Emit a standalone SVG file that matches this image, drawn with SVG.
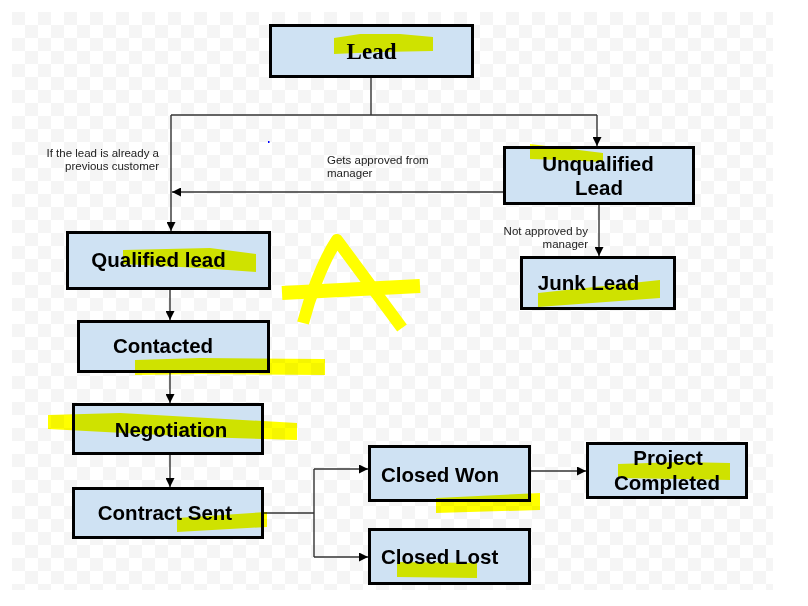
<svg xmlns="http://www.w3.org/2000/svg" width="808" height="606" viewBox="0 0 808 606">
<style>
.box{fill:#cfe2f3;stroke:#000;stroke-width:3}
.t{font-family:"Liberation Sans",Arial,sans-serif;font-weight:bold;font-size:20.5px;fill:#000}
.s{font-family:"Liberation Sans",Arial,sans-serif;font-size:11.5px;fill:#222}
.c{fill:none;stroke:#333;stroke-width:1.4}
.hl{fill:#ffff00;mix-blend-mode:multiply}
</style>
<defs>
<pattern id="chk" x="12" y="12" width="26" height="26" patternUnits="userSpaceOnUse">
<rect width="26" height="26" fill="#fff"/>
<rect width="13" height="13" fill="#f5f5f5"/>
<rect x="13" y="13" width="13" height="13" fill="#f5f5f5"/>
</pattern>
<marker id="ah" viewBox="0 0 10 10" refX="10" refY="5" markerWidth="9" markerHeight="9" markerUnits="userSpaceOnUse" orient="auto">
<path d="M0,0 L10,5 L0,10 z" fill="#000"/>
</marker>
</defs>
<rect width="808" height="606" fill="#fff"/>
<rect x="12" y="12" width="761" height="578" fill="url(#chk)"/>

<g id="connectors">
<path class="c" d="M371,77 V115"/>
<path class="c" d="M171,115 H597"/>
<path class="c" d="M171,115 V231" marker-end="url(#ah)"/>
<path class="c" d="M597,115 V146" marker-end="url(#ah)"/>
<path class="c" d="M504,192 H172" marker-end="url(#ah)"/>
<path class="c" d="M599,204 V256" marker-end="url(#ah)"/>
<path class="c" d="M170,289 V320" marker-end="url(#ah)"/>
<path class="c" d="M170,372 V403" marker-end="url(#ah)"/>
<path class="c" d="M170,454 V487" marker-end="url(#ah)"/>
<path class="c" d="M263,513 H314"/>
<path class="c" d="M314,469 V557"/>
<path class="c" d="M314,469 H368" marker-end="url(#ah)"/>
<path class="c" d="M314,557 H368" marker-end="url(#ah)"/>
<path class="c" d="M530,471 H586" marker-end="url(#ah)"/>
</g>

<g id="labels">
<text class="s" x="159" y="157" text-anchor="end">If the lead is already a</text>
<text class="s" x="159" y="170" text-anchor="end">previous customer</text>
<text class="s" x="327" y="164">Gets approved from</text>
<text class="s" x="327" y="177">manager</text>
<text class="s" x="588" y="235" text-anchor="end">Not approved by</text>
<text class="s" x="588" y="248" text-anchor="end">manager</text>
<rect x="268" y="141" width="1.5" height="2" fill="#00f"/>
</g>

<g id="lead">
<rect class="box" x="270.5" y="25.5" width="202" height="51"/>
<text x="371.5" y="59" text-anchor="middle" style="font-family:'Liberation Serif','Times New Roman',serif;font-weight:bold;font-size:23px">Lead</text>
</g>
<g id="unqualified">
<rect class="box" x="504.5" y="147.5" width="189" height="56"/>
<text class="t" x="598" y="171" text-anchor="middle">Unqualified</text>
<text class="t" x="599" y="195" text-anchor="middle">Lead</text>
</g>
<g id="junk">
<rect class="box" x="521.5" y="257.5" width="153" height="51"/>
<text class="t" x="588.5" y="290" text-anchor="middle">Junk Lead</text>
</g>
<g id="qualified">
<rect class="box" x="67.5" y="232.5" width="202" height="56"/>
<text class="t" x="158.5" y="267" text-anchor="middle">Qualified lead</text>
</g>
<g id="contacted">
<rect class="box" x="78.5" y="321.5" width="190" height="50"/>
<text class="t" x="163" y="353" text-anchor="middle">Contacted</text>
</g>
<g id="negotiation">
<rect class="box" x="73.5" y="404.5" width="189" height="49"/>
<text class="t" x="171" y="437" text-anchor="middle">Negotiation</text>
</g>
<g id="contract">
<rect class="box" x="73.5" y="488.5" width="189" height="49"/>
<text class="t" x="165" y="520" text-anchor="middle">Contract Sent</text>
</g>
<g id="won">
<rect class="box" x="369.5" y="446.5" width="160" height="54"/>
<text class="t" x="381" y="482">Closed Won</text>
</g>
<g id="lost">
<rect class="box" x="369.5" y="529.5" width="160" height="54"/>
<text class="t" x="381" y="564">Closed Lost</text>
</g>
<g id="project">
<rect class="box" x="587.5" y="443.5" width="159" height="54"/>
<text class="t" x="668" y="465" text-anchor="middle">Project</text>
<text class="t" x="667" y="490" text-anchor="middle">Completed</text>
</g>

<g id="highlights">
<polygon class="hl" points="334,38 360,34 400,34 433,37 433,51 380,52 334,54"/>
<polygon class="hl" points="530,144 603,153 603,162 560,160 530,159"/>
<polygon class="hl" points="538,293 660,280 660,298 538,307"/>
<polygon class="hl" points="123,250 210,248 256,254 256,272 200,268 123,264"/>
<polygon class="hl" points="135,360 200,358 325,359 325,375 200,374 135,375"/>
<polygon class="hl" points="48,415 120,413 297,423 297,440 200,437 48,429"/>
<polygon class="hl" points="177,518 267,512 267,527 177,532"/>
<polygon class="hl" points="436,498 540,493 540,510 436,513"/>
<polygon class="hl" points="397,562 477,563 477,578 397,577"/>
<polygon class="hl" points="618,464 680,462 730,463 730,480 680,479 618,478"/>
<path d="M303,323 C309,300 322,262 337,240 L402,328" fill="none" stroke="#ffff00" stroke-width="12" stroke-linejoin="round"/>
<path d="M282,293 L420,286" fill="none" stroke="#ffff00" stroke-width="14"/>
</g>
</svg>
